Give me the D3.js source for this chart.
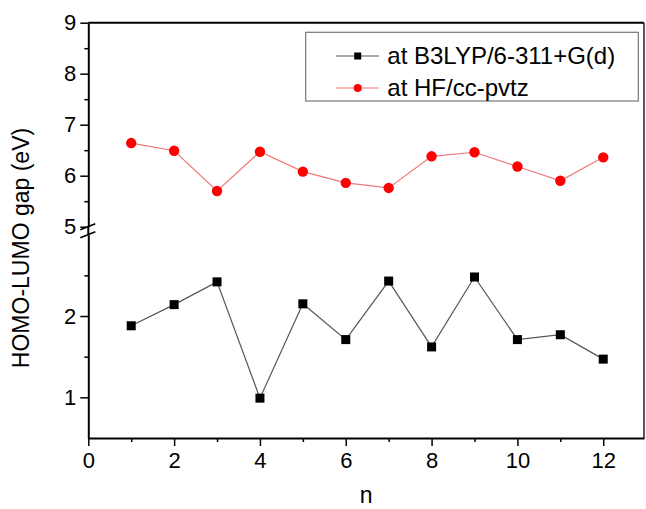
<!DOCTYPE html>
<html>
<head>
<meta charset="utf-8">
<script src="https://cdn.jsdelivr.net/npm/d3@7"></script>
<style>
  body { margin: 0; background: #fff; }
  svg { display: block; font-family: "Liberation Sans", Arial, sans-serif; }
  .axis path, .axis line { stroke: #000; }
  .axis text { font-size: 22px; fill: #000; }
</style>
</head>
<body>
<svg id="chart"></svg>
<script>
// Data
const nValues = [1, 2, 3, 4, 5, 6, 7, 8, 9, 10, 11, 12];
const b3lypGap = [1.88, 2.14, 2.42, 0.99, 2.15, 1.71, 2.43, 1.62, 2.48, 1.71, 1.77, 1.47];
const hfGap = [6.64, 6.49, 5.70, 6.47, 6.08, 5.86, 5.76, 6.38, 6.46, 6.18, 5.90, 6.36];

const xTicks = [0, 2, 4, 6, 8, 10, 12];
const xMinorTicks = [1, 3, 5, 7, 9, 11];
const yLowerTicks = [1, 2];
const yLowerMinor = [1.5, 2.5];
const yUpperTicks = [5, 6, 7, 8, 9];
const yUpperMinor = [5.5, 6.5, 7.5, 8.5];

const seriesNames = ['at B3LYP/6-311+G(d)', 'at HF/cc-pvtz'];

class BrokenAxisVis {
  constructor(_config) {
    this.config = {
      parentElement: _config.parentElement,
      width: 646,
      height: 509,
      left: 88.3,
      right: 644,
      top: 22.7,
      bottom: 438
    };
    this.initVis();
  }

  initVis() {
    const vis = this;
    const c = vis.config;

    vis.svg = d3.select(c.parentElement)
      .attr('width', c.width)
      .attr('height', c.height);

    // Scales: x shared, y split in two pieces
    vis.xScale = d3.scaleLinear().domain([0, 12.95]).range([c.left, c.right]);
    vis.yLower = d3.scaleLinear().domain([0.5, 3]).range([c.bottom, 234.7]);
    vis.yUpper = d3.scaleLinear().domain([5, 9]).range([226.7, c.top]);

    vis.updateVis();
  }

  updateVis() {
    const vis = this;
    vis.lowerData = nValues.map((n, i) => ({ n, v: b3lypGap[i] }));
    vis.upperData = nValues.map((n, i) => ({ n, v: hfGap[i] }));
    vis.renderVis();
  }

  renderVis() {
    const vis = this;
    const c = vis.config;
    const svg = vis.svg;
    const fmt = d3.format('d');

    // Frame (top + right)
    svg.append('line')
      .attr('x1', c.left).attr('x2', c.right)
      .attr('y1', c.top).attr('y2', c.top)
      .attr('stroke', '#000').attr('stroke-width', 2);
    svg.append('line')
      .attr('x1', c.right).attr('x2', c.right)
      .attr('y1', c.top).attr('y2', c.bottom)
      .attr('stroke', '#222').attr('stroke-width', 1.5);

    // X axis
    svg.append('g')
      .attr('class', 'axis x-axis')
      .attr('transform', `translate(0,${c.bottom})`)
      .call(d3.axisBottom(vis.xScale).tickValues(xTicks).tickFormat(fmt).tickSize(8).tickPadding(6).tickSizeOuter(0))
      .call(g => g.select('.domain').attr('stroke-width', 2))
      .call(g => g.selectAll('.tick line').attr('stroke-width', 1.5));
    svg.append('g')
      .attr('class', 'axis')
      .attr('transform', `translate(0,${c.bottom})`)
      .call(d3.axisBottom(vis.xScale).tickValues(xMinorTicks).tickSize(4).tickFormat(''))
      .call(g => g.select('.domain').remove())
      .call(g => g.selectAll('.tick line').attr('stroke-width', 1.5));

    // Y axes (upper and lower pieces)
    const yAxes = [
      [vis.yUpper, yUpperTicks, yUpperMinor],
      [vis.yLower, yLowerTicks, yLowerMinor]
    ];
    yAxes.forEach(([scale, major, minor]) => {
      svg.append('g')
        .attr('class', 'axis y-axis')
        .attr('transform', `translate(${c.left},0)`)
        .call(d3.axisLeft(scale).tickValues(major).tickFormat(fmt).tickSize(8).tickPadding(4).tickSizeOuter(0))
        .call(g => g.select('.domain').attr('stroke-width', 2))
        .call(g => g.selectAll('.tick line').attr('stroke-width', 1.5));
      svg.append('g')
        .attr('class', 'axis')
        .attr('transform', `translate(${c.left},0)`)
        .call(d3.axisLeft(scale).tickValues(minor).tickSize(4).tickFormat(''))
        .call(g => g.select('.domain').remove())
        .call(g => g.selectAll('.tick line').attr('stroke-width', 1.5));
    });

    // connect the two y pieces, then the break marks
    svg.append('line')
      .attr('x1', c.left).attr('x2', c.left)
      .attr('y1', vis.yUpper(5)).attr('y2', vis.yLower(3))
      .attr('stroke', '#000').attr('stroke-width', 2);
    [vis.yUpper(5), vis.yLower(3)].forEach(y => {
      svg.append('line')
        .attr('x1', c.left - 8).attr('x2', c.left + 7)
        .attr('y1', y + 3).attr('y2', y - 3)
        .attr('stroke', '#000').attr('stroke-width', 1.6);
    });

    // Axis titles
    svg.append('text')
      .attr('transform', 'translate(29,248) rotate(-90)')
      .attr('text-anchor', 'middle')
      .attr('font-size', 23)
      .text('HOMO-LUMO gap (eV)');
    svg.append('text')
      .attr('x', (c.left + c.right) / 2)
      .attr('y', 503)
      .attr('text-anchor', 'middle')
      .attr('font-size', 23)
      .text('n');

    // Lines
    const lowerLine = d3.line().x(d => vis.xScale(d.n)).y(d => vis.yLower(d.v));
    const upperLine = d3.line().x(d => vis.xScale(d.n)).y(d => vis.yUpper(d.v));

    svg.append('path')
      .datum(vis.lowerData)
      .attr('d', lowerLine)
      .attr('fill', 'none')
      .attr('stroke', '#555')
      .attr('stroke-width', 1.2);
    svg.append('path')
      .datum(vis.upperData)
      .attr('d', upperLine)
      .attr('fill', 'none')
      .attr('stroke', '#f07878')
      .attr('stroke-width', 1.2);

    // Markers
    const sq = 9;
    svg.selectAll('.sq')
      .data(vis.lowerData)
      .join('rect')
      .attr('class', 'sq')
      .attr('x', d => vis.xScale(d.n) - sq / 2)
      .attr('y', d => vis.yLower(d.v) - sq / 2)
      .attr('width', sq).attr('height', sq)
      .attr('fill', '#000');
    svg.selectAll('.dot')
      .data(vis.upperData)
      .join('circle')
      .attr('class', 'dot')
      .attr('cx', d => vis.xScale(d.n))
      .attr('cy', d => vis.yUpper(d.v))
      .attr('r', 5.2)
      .attr('fill', '#ff0000');

    // Legend
    const legend = svg.append('g').attr('class', 'legend');
    legend.append('rect')
      .attr('x', 305.7).attr('y', 32.3)
      .attr('width', 332.6).attr('height', 68.7)
      .attr('fill', '#fff')
      .attr('stroke', '#777')
      .attr('stroke-width', 1.2);

    const rows = [
      { name: seriesNames[0], y: 56, color: '#555', mark: 'sq' },
      { name: seriesNames[1], y: 88, color: '#f07878', mark: 'dot' }
    ];
    rows.forEach(r => {
      legend.append('line')
        .attr('x1', 336).attr('x2', 379)
        .attr('y1', r.y).attr('y2', r.y)
        .attr('stroke', r.color).attr('stroke-width', 1.2);
      if (r.mark === 'sq') {
        legend.append('rect')
          .attr('x', 357.7 - 3.5).attr('y', r.y - 3.5)
          .attr('width', 7).attr('height', 7)
          .attr('fill', '#000');
      } else {
        legend.append('circle')
          .attr('cx', 357.7).attr('cy', r.y)
          .attr('r', 4).attr('fill', '#ff0000');
      }
      legend.append('text')
        .attr('x', 387.3)
        .attr('y', r.y + 8)
        .attr('font-size', 24)
        .text(r.name);
    });
  }
}

new BrokenAxisVis({ parentElement: '#chart' });
</script>
</body>
</html>
